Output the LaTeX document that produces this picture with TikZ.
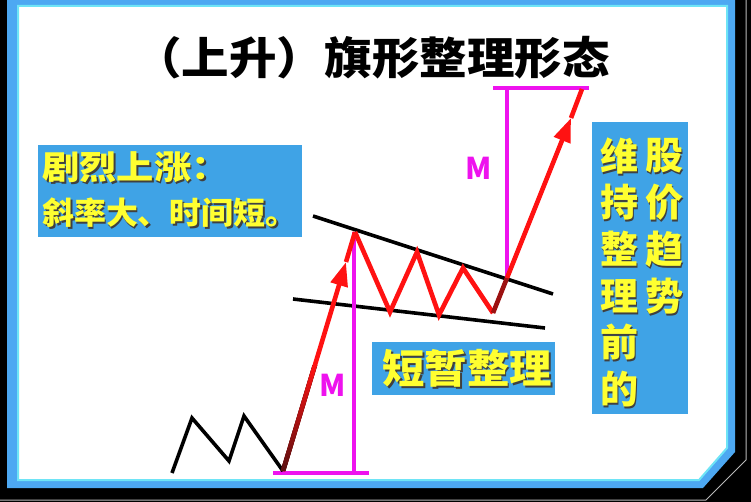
\documentclass[tikz,border=0pt]{standalone}
\usepackage{graphicx}
\usepackage{fontspec}
\newfontfamily\cjk{Noto Sans CJK SC}
\usetikzlibrary{arrows.meta,calc}
\definecolor{frameblue}{HTML}{4DA8F2}
\definecolor{framecyan}{HTML}{6EE4F6}
\definecolor{boxblue}{HTML}{3FA3E6}
\definecolor{ytext}{HTML}{FFFF30}
\definecolor{shadowc}{HTML}{404040}
\definecolor{mag}{HTML}{EE12EE}
\definecolor{redl}{HTML}{FF1212}
\definecolor{darkred}{HTML}{5A1010}
\definecolor{grayline}{HTML}{B8B8B8}
\tikzset{
  blackline/.style={line width=3.6pt, black, line join=miter},
  redline/.style={line width=4.6pt, redl, line join=miter},
  magline/.style={line width=3.4pt, mag},
  bluebox/.style={fill=boxblue, draw=none},
  ytxt/.style={text=ytext, inner sep=0pt},
  mlabel/.style={text=mag, inner sep=0pt, font={\cjk\bfseries\fontsize{30}{30}\selectfont}},
  bigtip/.style={-{Triangle[length=24pt,width=17pt]}},
}
\newcommand\shadowed[5]{%
  \node[ytxt,#2,font={\cjk\bfseries\fontsize{#4}{#4}\selectfont}] (#1) at (#3)
    {\makebox[0pt][l]{\hspace{1.8pt}\raisebox{-1.8pt}{\color{shadowc}#5}}#5};}
\begin{document}
\begin{tikzpicture}[x=1pt,y=-1pt]
\useasboundingbox (0,0) rectangle (751,502);
% frame
\fill[black] (0,0) rectangle (751,502);
\draw[grayline, line width=1pt] (746,0) -- (746,460) -- (706,500) -- (0,500);
\fill[frameblue] (7,0) -- (735,0) -- (735,452) -- (703,488) -- (7,488) -- cycle;
\fill[white, draw=framecyan, line width=2pt] (18,6) -- (727,6) -- (727,448) -- (699,480) -- (18,480) -- cycle;
% title
\node[inner sep=0pt, font={\cjk\bfseries\fontsize{44}{44}\selectfont}] (title) at (372,58) {\scalebox{1.08}[1]{（上升）旗形整理形态}};
% boxes
\fill[bluebox] (38,145) rectangle (302,237);
\fill[bluebox] (592,122) rectangle (688,414);
\fill[bluebox] (372,342) rectangle (555,395);
\shadowed{l1}{anchor=west}{42,168}{33}{\scalebox{1.13}[1]{剧烈上涨：}}
\shadowed{l2}{anchor=west}{42,214}{31}{\scalebox{1.03}[1]{斜率大、时间短。}}
\shadowed{sz}{}{467,369}{40}{\scalebox{1.06}[1]{短暂整理}}
\shadowed{a1}{}{619,157}{38}{维}
\shadowed{a2}{}{619,203}{38}{持}
\shadowed{a3}{}{619,250}{38}{整}
\shadowed{a4}{}{619,297}{38}{理}
\shadowed{a5}{}{619,343}{38}{前}
\shadowed{a6}{}{619,390}{38}{的}
\shadowed{b1}{}{664,157}{38}{股}
\shadowed{b2}{}{664,203}{38}{价}
\shadowed{b3}{}{664,250}{38}{趋}
\shadowed{b4}{}{664,297}{38}{势}
% chart points
\coordinate (z0) at (172,473);
\coordinate (z1) at (192,418);
\coordinate (z2) at (229,461);
\coordinate (z3) at (244,416);
\coordinate (z4) at (283,471);
\coordinate (t1) at (346,262);
\coordinate (p1) at (355,232);
\coordinate (f1) at (390,312);
\coordinate (f2) at (417,252);
\coordinate (f3) at (439,315);
\coordinate (f4) at (463,268);
\coordinate (f5) at (493,313);
\coordinate (br) at (507,278);
\coordinate (t2) at (571,118);
\coordinate (p2) at (582,89);
\coordinate (u0) at (313,216);
\coordinate (u1) at (553,294);
\coordinate (w0) at (293,299);
\coordinate (w1) at (545,328);
\coordinate (m0) at (273,473);
\coordinate (m1) at (369,473);
\coordinate (m2) at (354,473);
\coordinate (m3) at (354,232);
\coordinate (n0) at (493,88);
\coordinate (n1) at (589,88);
\coordinate (n2) at (507,88);
% flag boundaries
\draw[blackline] (u0) -- (u1);
\draw[blackline] (w0) -- (w1);
% magenta measures
\draw[magline] (m0) -- (m1);
\draw[magline] (m2) -- (m3);
\draw[magline] (n0) -- (n1);
\draw[magline] (n2) -- (br);
\node[mlabel] (mlow) at (333,385) {M};
\node[mlabel] (mup) at (479,168) {M};
% black zigzag
\draw[blackline] (z0) -- (z1) -- (z2) -- (z3) -- (z4);
% red legs
\draw[redline, bigtip] (z4) -- (t1);
\draw[redline] (t1) -- (p1);
\fill[top color=redl, bottom color=darkred] (280.6,471) -- (285.4,471) -- (317.3,365) -- (312.5,365) -- cycle;
\draw[redline] (p1) -- (f1) -- (f2) -- (f3) -- (f4) -- (f5);
\draw[line width=4.6pt, darkred!60!redl] (f5) -- (br);
\draw[redline, bigtip] (br) -- (t2);
\draw[redline] (t2) -- (p2);
\end{tikzpicture}
\end{document}
